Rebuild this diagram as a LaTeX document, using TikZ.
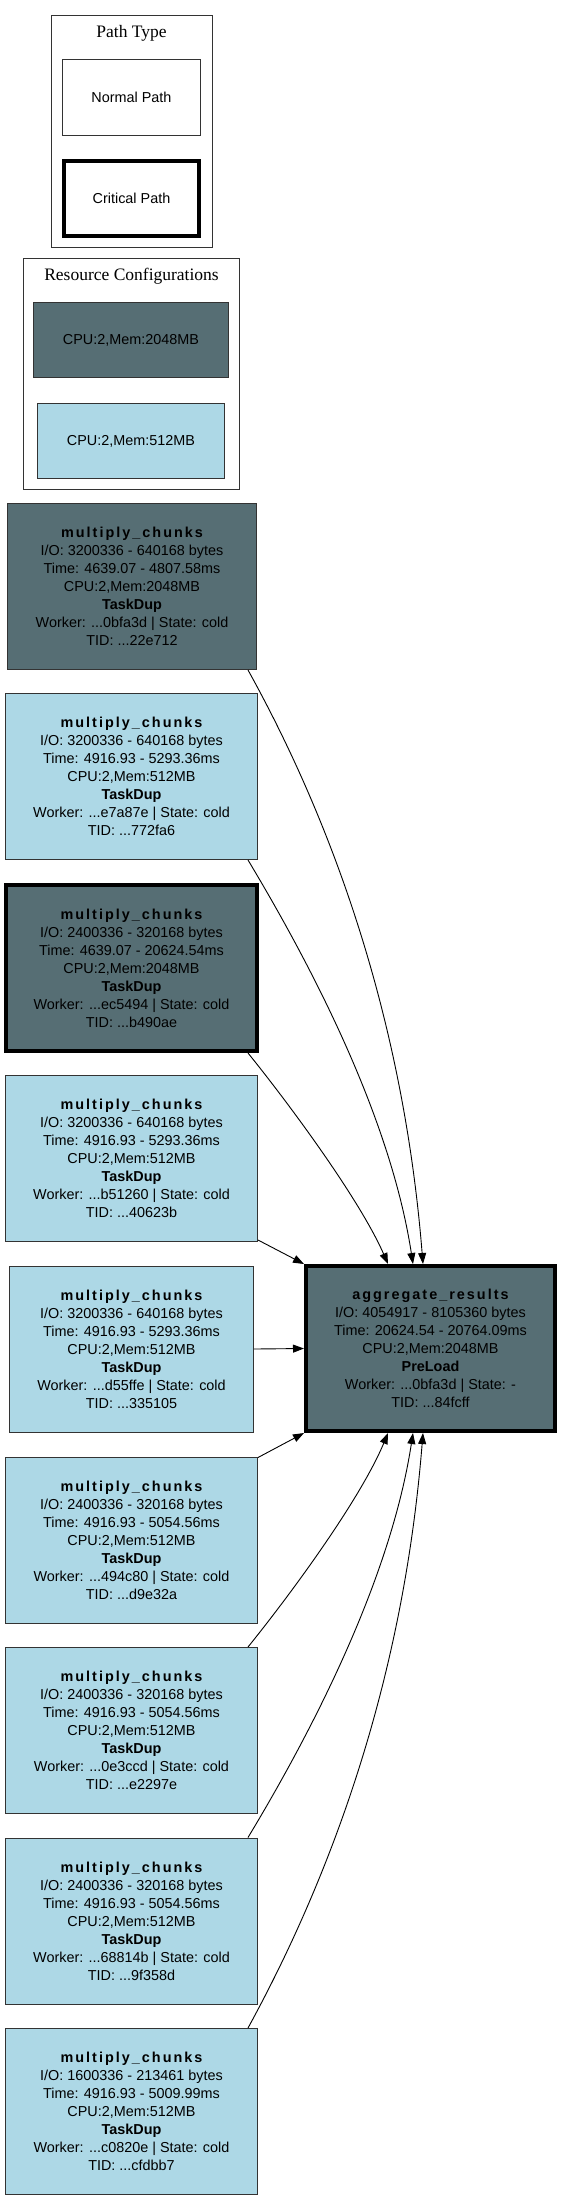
\documentclass[tikz,border=0pt]{standalone}
\usepackage{fontspec}
\setmainfont{Liberation Serif}
\newfontfamily\nodefont{Liberation Sans}
\newfontfamily\titlefont{Liberation Sans}[LetterSpace=14]
\usetikzlibrary{arrows.meta,calc}
\definecolor{darkfill}{HTML}{566E74}
\definecolor{lightfill}{HTML}{ADD8E6}
\definecolor{nborder}{HTML}{333333}
\tikzset{
  task/.style={draw=nborder, line width=1pt, inner sep=0pt, align=center,
    minimum width=252pt, minimum height=166pt,
    font=\nodefont\fontsize{14.4}{18}\selectfont},
  dark/.style={fill=darkfill},
  light/.style={fill=lightfill},
  crit/.style={draw=black, line width=4pt},
  legendbox/.style={draw=nborder, line width=1pt, inner sep=0pt, align=center,
    font=\nodefont\fontsize{14.4}{18}\selectfont},
  cluster/.style={draw=black!80, line width=1pt, inner sep=0pt},
  clusterlabel/.style={font=\fontsize{17.5}{20}\selectfont, inner sep=0pt},
  edge/.style={draw=black, line width=0.9pt, -{Triangle[length=11pt,width=8pt]}}
}
\newcommand{\ttl}[1]{{\titlefont\bfseries #1}}
\newcommand{\bld}[1]{{\bfseries #1}}
\begin{document}
\begin{tikzpicture}[x=1pt,y=-1pt]
\useasboundingbox (0,0) rectangle (560,2201);
% legend: path type
\node[cluster, minimum width=161pt, minimum height=232pt] (ptc) at (131.5,131.5) {};
\node[clusterlabel] (ptl) at (131.5,33) {Path Type};
\node[legendbox, minimum width=138pt, minimum height=76pt] (np) at (131.5,97.5) {Normal Path};
\node[legendbox, crit, minimum width=135pt, minimum height=75pt] (cp) at (131.5,198.5) {Critical Path};
% legend: resources
\node[cluster, minimum width=216pt, minimum height=231pt] (rcc) at (131.5,374) {};
\node[clusterlabel] (rcl) at (131.5,276) {Resource Configurations};
\node[legendbox, dark, minimum width=195pt, minimum height=75pt] (r1) at (131,340) {CPU:2,Mem:2048MB};
\node[legendbox, light, minimum width=187pt, minimum height=75pt] (r2) at (131,441) {CPU:2,Mem:512MB};
% task nodes
\node[task, dark, minimum width=249pt] (n1) at (132,586.5) {\ttl{multiply\_chunks}\\I/O: 3200336 - 640168 bytes\\Time: 4639.07 - 4807.58ms\\CPU:2,Mem:2048MB\\\bld{TaskDup}\\Worker: ...0bfa3d | State: cold\\TID: ...22e712};
\node[task, light] (n2) at (131.5,776.5) {\ttl{multiply\_chunks}\\I/O: 3200336 - 640168 bytes\\Time: 4916.93 - 5293.36ms\\CPU:2,Mem:512MB\\\bld{TaskDup}\\Worker: ...e7a87e | State: cold\\TID: ...772fa6};
\node[task, dark, crit, minimum width=251pt, minimum height=166pt] (n3) at (131.5,968) {\ttl{multiply\_chunks}\\I/O: 2400336 - 320168 bytes\\Time: 4639.07 - 20624.54ms\\CPU:2,Mem:2048MB\\\bld{TaskDup}\\Worker: ...ec5494 | State: cold\\TID: ...b490ae};
\node[task, light] (n4) at (131.5,1158.5) {\ttl{multiply\_chunks}\\I/O: 3200336 - 640168 bytes\\Time: 4916.93 - 5293.36ms\\CPU:2,Mem:512MB\\\bld{TaskDup}\\Worker: ...b51260 | State: cold\\TID: ...40623b};
\node[task, light, minimum width=244pt] (n5) at (131.5,1349) {\ttl{multiply\_chunks}\\I/O: 3200336 - 640168 bytes\\Time: 4916.93 - 5293.36ms\\CPU:2,Mem:512MB\\\bld{TaskDup}\\Worker: ...d55ffe | State: cold\\TID: ...335105};
\node[task, light] (n6) at (131.5,1540) {\ttl{multiply\_chunks}\\I/O: 2400336 - 320168 bytes\\Time: 4916.93 - 5054.56ms\\CPU:2,Mem:512MB\\\bld{TaskDup}\\Worker: ...494c80 | State: cold\\TID: ...d9e32a};
\node[task, light] (n7) at (131.5,1730.5) {\ttl{multiply\_chunks}\\I/O: 2400336 - 320168 bytes\\Time: 4916.93 - 5054.56ms\\CPU:2,Mem:512MB\\\bld{TaskDup}\\Worker: ...0e3ccd | State: cold\\TID: ...e2297e};
\node[task, light] (n8) at (131.5,1921) {\ttl{multiply\_chunks}\\I/O: 2400336 - 320168 bytes\\Time: 4916.93 - 5054.56ms\\CPU:2,Mem:512MB\\\bld{TaskDup}\\Worker: ...68814b | State: cold\\TID: ...9f358d};
\node[task, light] (n9) at (131.5,2111.5) {\ttl{multiply\_chunks}\\I/O: 1600336 - 213461 bytes\\Time: 4916.93 - 5009.99ms\\CPU:2,Mem:512MB\\\bld{TaskDup}\\Worker: ...c0820e | State: cold\\TID: ...cfdbb7};
\node[task, dark, crit, minimum width=249pt, minimum height=165pt] (agg) at (430.5,1348.5) {\ttl{aggregate\_results}\\I/O: 4054917 - 8105360 bytes\\Time: 20624.54 - 20764.09ms\\CPU:2,Mem:2048MB\\\bld{PreLoad}\\Worker: ...0bfa3d | State: -\\TID: ...84fcff};
% edges
\draw[edge] ([xshift=-9pt]n1.south east) .. controls (330,818) and (403,1014) .. ([xshift=119pt]agg.north west);
\draw[edge] ([xshift=-10pt]n2.south east) .. controls (308,960) and (390,1114) .. ([xshift=109pt]agg.north west);
\draw[edge] ([xshift=-11pt]n3.south east) .. controls (290,1105) and (360,1200) .. ([xshift=84pt]agg.north west);
\draw[edge] ([yshift=2pt]n4.south east) -- (agg.north west);
\draw[edge] (n5.east) -- (agg.west);
\draw[edge] ([yshift=-1pt]n6.north east) -- (agg.south west);
\draw[edge] ([xshift=-10pt]n7.north east) .. controls (290,1595) and (360,1500) .. ([xshift=84pt]agg.south west);
\draw[edge] ([xshift=-10pt]n8.north east) .. controls (308,1738) and (390,1583) .. ([xshift=109pt]agg.south west);
\draw[edge] ([xshift=-10pt]n9.north east) .. controls (330,1878) and (403,1683) .. ([xshift=119pt]agg.south west);
\end{tikzpicture}
\end{document}
